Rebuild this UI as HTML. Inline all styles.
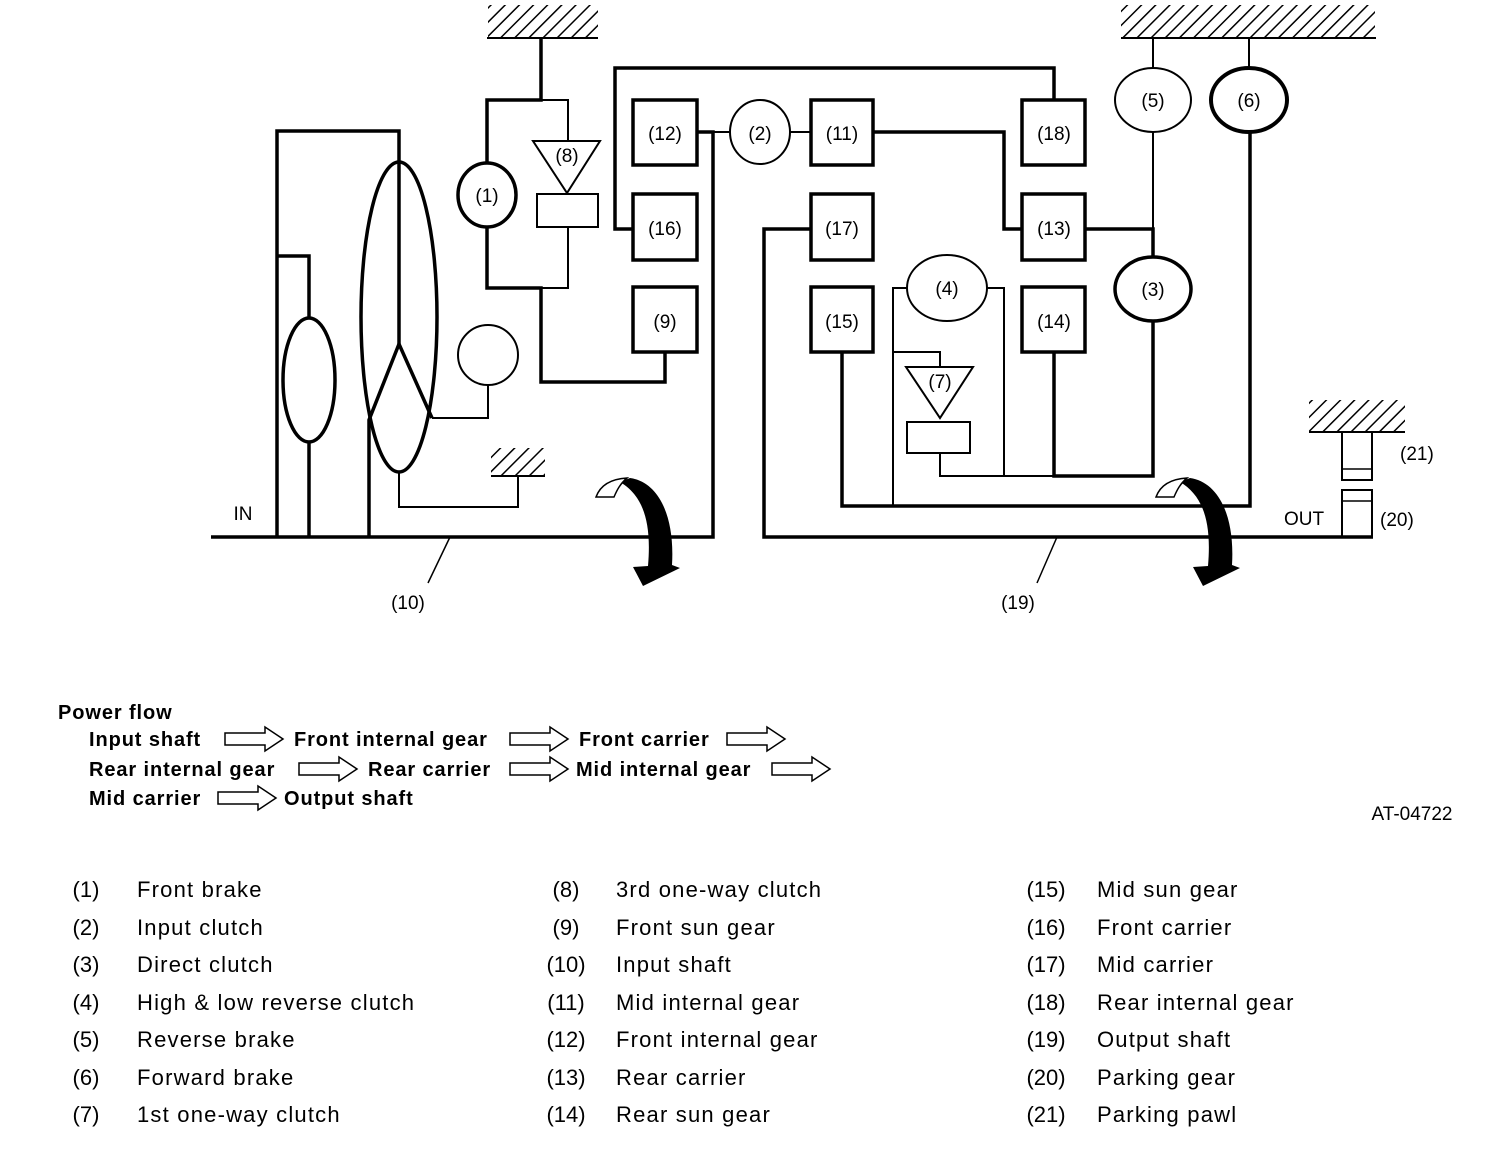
<!DOCTYPE html>
<html><head><meta charset="utf-8"><style>
body{margin:0;background:#fff;width:1504px;height:1166px;overflow:hidden;font-family:"Liberation Sans",Arial,sans-serif}
svg{position:absolute;left:0;top:0}
</style></head><body>
<svg width="1504" height="1166" viewBox="0 0 1504 1166" xmlns="http://www.w3.org/2000/svg">
<defs>
<pattern id="h" width="10" height="10" patternUnits="userSpaceOnUse" patternTransform="rotate(45)">
<rect width="10" height="10" fill="#fff"/><line x1="0" y1="0" x2="0" y2="10" stroke="#000" stroke-width="3"/>
</pattern>
</defs>
<g fill="none" stroke="#000" stroke-width="3.5">
<rect x="488" y="5" width="110" height="32" fill="url(#h)" stroke="none"/>
<line x1="487" y1="38" x2="598" y2="38" stroke-width="2"/>
<rect x="1121" y="5" width="254" height="32" fill="url(#h)" stroke="none"/>
<line x1="1121" y1="38" x2="1376" y2="38" stroke-width="2"/>
<rect x="491" y="448" width="54" height="27" fill="url(#h)" stroke="none"/>
<line x1="491" y1="476" x2="545" y2="476" stroke-width="2"/>
<rect x="1309" y="400" width="96" height="31" fill="url(#h)" stroke="none"/>
<line x1="1309" y1="432" x2="1405" y2="432" stroke-width="2"/>

<polyline points="211,537 713,537 713,132 697,132"/>
<polyline points="277,537 277,131 399,131 399,344"/>
<polyline points="277,256 309,256 309,318"/>
<line x1="309" y1="442" x2="309" y2="537"/>
<ellipse cx="309" cy="380" rx="26" ry="62"/>
<ellipse cx="399" cy="317" rx="38" ry="155"/>
<polyline points="369,537 369,420 399,344 432,418"/>
<polyline points="432,418 488,418 488,385" stroke-width="2"/>
<circle cx="488" cy="355" r="30" stroke-width="2"/>
<polyline points="399,473 399,507 518,507 518,476" stroke-width="2"/>
<line x1="450" y1="537" x2="428" y2="583" stroke-width="1.5"/>

<polyline points="541,38 541,100 487,100 487,163"/>
<ellipse cx="487" cy="195" rx="29" ry="32"/>
<polyline points="487,227 487,288 541,288 541,382 665,382 665,352"/>
<polyline points="541,100 568,100 568,141" stroke-width="2"/>
<polygon points="533,141 600,141 567,193" stroke-width="2"/>
<rect x="537" y="194" width="61" height="33" stroke-width="2"/>
<polyline points="568,227 568,288 541,288" stroke-width="2"/>

<rect x="633" y="100" width="64" height="65"/>
<rect x="633" y="194" width="64" height="66"/>
<rect x="633" y="287" width="64" height="65"/>
<polyline points="633,229 615,229 615,68 1054,68 1054,100"/>
<line x1="713" y1="132" x2="730" y2="132" stroke-width="2"/>
<ellipse cx="760" cy="132" rx="30" ry="32" stroke-width="2"/>
<line x1="790" y1="132" x2="811" y2="132" stroke-width="2"/>

<rect x="811" y="100" width="62" height="65"/>
<rect x="811" y="194" width="62" height="66"/>
<rect x="811" y="287" width="62" height="65"/>
<rect x="1022" y="100" width="63" height="65"/>
<rect x="1022" y="194" width="63" height="66"/>
<rect x="1022" y="287" width="63" height="65"/>
<polyline points="873,132 1004,132 1004,229 1022,229"/>
<polyline points="811,229 764,229 764,537 1373,537"/>
<polyline points="842,352 842,506 1250,506 1250,132"/>
<ellipse cx="947" cy="288" rx="40" ry="33" stroke-width="2"/>
<polyline points="907,288 893,288 893,506" stroke-width="2"/>
<polyline points="987,288 1004,288 1004,476" stroke-width="2"/>
<polyline points="893,352 940,352 940,367" stroke-width="2"/>
<polygon points="906,367 973,367 940,418" stroke-width="2"/>
<rect x="907" y="422" width="63" height="31" stroke-width="2"/>
<polyline points="940,453 940,476 1054,476" stroke-width="2"/>
<polyline points="1054,352 1054,476 1153,476 1153,321"/>
<polyline points="1085,229 1153,229 1153,257"/>
<line x1="1153" y1="229" x2="1153" y2="132" stroke-width="2"/>
<ellipse cx="1153" cy="289" rx="38" ry="32"/>
<ellipse cx="1153" cy="100" rx="38" ry="32" stroke-width="2"/>
<line x1="1153" y1="68" x2="1153" y2="38" stroke-width="2"/>
<ellipse cx="1249" cy="100" rx="38" ry="32" stroke-width="4"/>
<line x1="1249" y1="68" x2="1249" y2="38" stroke-width="2"/>
<rect x="1342" y="432" width="30" height="48" stroke-width="2"/>
<line x1="1342" y1="469" x2="1372" y2="469" stroke-width="1.5"/>
<rect x="1342" y="490" width="30" height="47" stroke-width="2"/>
<line x1="1342" y1="501" x2="1372" y2="501" stroke-width="1.5"/>
<line x1="1057" y1="537" x2="1037" y2="583" stroke-width="1.5"/>

<g stroke-width="1.5">
<polygon points="225,733 265,733 265,727 283,739 265,751 265,745 225,745"/>
<polygon points="510,733 550,733 550,727 568,739 550,751 550,745 510,745"/>
<polygon points="727,733 767,733 767,727 785,739 767,751 767,745 727,745"/>
<polygon points="299,763 339,763 339,757 357,769 339,781 339,775 299,775"/>
<polygon points="510,763 550,763 550,757 568,769 550,781 550,775 510,775"/>
<polygon points="772,763 812,763 812,757 830,769 812,781 812,775 772,775"/>
<polygon points="218,792 258,792 258,786 276,798 258,810 258,804 218,804"/>
</g>
</g>

<g transform="translate(580,460)">
<path d="M50,18 C78,22 95,55 92,105 L100,108 L63,126 L53,107 L68,106 C72,60 62,35 40,22 Z" fill="#000"/>
<path d="M16,37 C20,26 30,19 47,18 C40,24 37,30 34,37 Z" fill="#fff" stroke="#000" stroke-width="1.5"/>
</g>
<g transform="translate(1140,460)">
<path d="M50,18 C78,22 95,55 92,105 L100,108 L63,126 L53,107 L68,106 C72,60 62,35 40,22 Z" fill="#000"/>
<path d="M16,37 C20,26 30,19 47,18 C40,24 37,30 34,37 Z" fill="#fff" stroke="#000" stroke-width="1.5"/>
</g>

<g font-family="Liberation Sans, Arial, sans-serif" font-size="19" text-anchor="middle" fill="#000">
<text x="665" y="140">(12)</text>
<text x="665" y="235">(16)</text>
<text x="665" y="328">(9)</text>
<text x="760" y="140">(2)</text>
<text x="842" y="140">(11)</text>
<text x="842" y="235">(17)</text>
<text x="842" y="328">(15)</text>
<text x="1054" y="140">(18)</text>
<text x="1054" y="235">(13)</text>
<text x="1054" y="328">(14)</text>
<text x="487" y="202">(1)</text>
<text x="567" y="162">(8)</text>
<text x="947" y="295">(4)</text>
<text x="940" y="388">(7)</text>
<text x="1153" y="107">(5)</text>
<text x="1249" y="107">(6)</text>
<text x="1153" y="296">(3)</text>
<text x="408" y="609">(10)</text>
<text x="1018" y="609">(19)</text>
<text x="1400" y="460" text-anchor="start">(21)</text>
<text x="1380" y="526" text-anchor="start">(20)</text>
<text x="243" y="520">IN</text>
<text x="1304" y="525">OUT</text>
<text x="1412" y="820">AT-04722</text>
</g>

<g font-family="Liberation Sans, Arial, sans-serif" font-size="20" font-weight="bold" fill="#000" letter-spacing="0.9">
<text x="58" y="719">Power flow</text>
<text x="89" y="746">Input shaft</text>
<text x="294" y="746">Front internal gear</text>
<text x="579" y="746">Front carrier</text>
<text x="89" y="776">Rear internal gear</text>
<text x="368" y="776">Rear carrier</text>
<text x="576" y="776">Mid internal gear</text>
<text x="89" y="805">Mid carrier</text>
<text x="284" y="805">Output shaft</text>
</g>

<g font-family="Liberation Sans, Arial, sans-serif" font-size="22" fill="#000">
<g text-anchor="middle">
<text x="86" y="897">(1)</text><text x="86" y="935">(2)</text><text x="86" y="972">(3)</text><text x="86" y="1010">(4)</text><text x="86" y="1047">(5)</text><text x="86" y="1085">(6)</text><text x="86" y="1122">(7)</text>
<text x="566" y="897">(8)</text><text x="566" y="935">(9)</text><text x="566" y="972">(10)</text><text x="566" y="1010">(11)</text><text x="566" y="1047">(12)</text><text x="566" y="1085">(13)</text><text x="566" y="1122">(14)</text>
<text x="1046" y="897">(15)</text><text x="1046" y="935">(16)</text><text x="1046" y="972">(17)</text><text x="1046" y="1010">(18)</text><text x="1046" y="1047">(19)</text><text x="1046" y="1085">(20)</text><text x="1046" y="1122">(21)</text>
</g>
<g letter-spacing="1.2">
<text x="137" y="897">Front brake</text><text x="137" y="935">Input clutch</text><text x="137" y="972">Direct clutch</text><text x="137" y="1010">High &amp; low reverse clutch</text><text x="137" y="1047">Reverse brake</text><text x="137" y="1085">Forward brake</text><text x="137" y="1122">1st one-way clutch</text>
<text x="616" y="897">3rd one-way clutch</text><text x="616" y="935">Front sun gear</text><text x="616" y="972">Input shaft</text><text x="616" y="1010">Mid internal gear</text><text x="616" y="1047">Front internal gear</text><text x="616" y="1085">Rear carrier</text><text x="616" y="1122">Rear sun gear</text>
<text x="1097" y="897">Mid sun gear</text><text x="1097" y="935">Front carrier</text><text x="1097" y="972">Mid carrier</text><text x="1097" y="1010">Rear internal gear</text><text x="1097" y="1047">Output shaft</text><text x="1097" y="1085">Parking gear</text><text x="1097" y="1122">Parking pawl</text>
</g>
</g>
</svg>
</body></html>
